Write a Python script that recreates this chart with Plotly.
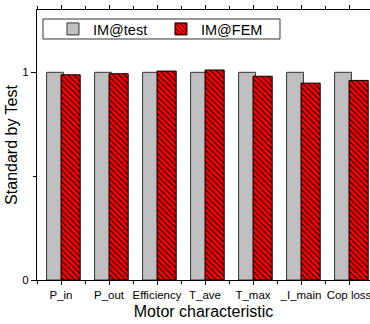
import plotly.graph_objects as go

categories = ["P_in", "P_out", "Efficiency", "T_ave", "T_max", "_I_main", "Cop loss"]
im_test = [1, 1, 1, 1, 1, 1, 1]
im_fem = [0.988, 0.993, 1.006, 1.011, 0.981, 0.948, 0.961]
y_ticks = [0, 1]

xpos = list(range(len(categories)))

fig = go.Figure()
fig.add_trace(go.Bar(
    x=xpos, y=im_test, name="IM@test",
    offset=-0.30, width=0.35,
    marker=dict(color="#c0c0c0", line=dict(color="#333333", width=1)),
))
fig.add_trace(go.Bar(
    x=xpos, y=im_fem, name="IM@FEM",
    offset=0.0, width=0.40,
    marker=dict(color="#ff0000", line=dict(color="#000000", width=1),
                pattern=dict(shape="\\", fgcolor="#000000", bgcolor="#ff0000",
                             size=4, solidity=0.28, fillmode="replace")),
))

font_family = "Liberation Sans, Arial, sans-serif"
fig.update_layout(
    width=370, height=324,
    margin=dict(l=37, r=0, t=10, b=44, autoexpand=False),
    barmode="overlay",
    plot_bgcolor="white", paper_bgcolor="white",
    font=dict(family=font_family, color="black", size=12),
    showlegend=True,
    legend=dict(
        orientation="h", x=0.048, y=0.9296, xanchor="left", yanchor="middle",
        borderwidth=0, bgcolor="rgba(0,0,0,0)",
        font=dict(size=14.5, family=font_family),
        entrywidth=63, entrywidthmode="pixels",
        traceorder="normal",
    ),
    shapes=[dict(type="rect", xref="paper", yref="paper",
                 x0=0.018, x1=0.7297, y0=0.8926, y1=0.9667,
                 line=dict(color="#333333", width=1), fillcolor="rgba(0,0,0,0)",
                 layer="above")],
    xaxis=dict(
        range=[-0.5, 6.4375],
        tickmode="array", tickvals=xpos, ticktext=categories,
        ticks="outside", ticklen=4, tickcolor="black",
        minor=dict(tick0=0.5, dtick=1, ticks="outside", ticklen=3, tickcolor="black"),
        showline=True, linecolor="black", linewidth=1, mirror="allticks",
        showgrid=False, zeroline=False, automargin=False,
        ticklabeloverflow="allow",
        tickfont=dict(size=11.5),
        title=dict(text="Motor characteristic", font=dict(size=16), standoff=6),
    ),
    yaxis=dict(
        range=[0, 1.3],
        tickmode="array", tickvals=y_ticks,
        ticks="outside", ticklen=5, tickcolor="black",
        minor=dict(tick0=0, dtick=0.5, ticks="outside", ticklen=3, tickcolor="black"),
        showline=True, linecolor="black", linewidth=1, mirror=True,
        showgrid=False, zeroline=False, automargin=False,
        tickfont=dict(size=11.5),
        title=dict(text="Standard by Test", font=dict(size=16), standoff=0),
    ),
)

fig.write_html("out.html", config={"displayModeBar": False},
               post_script="document.body.style.margin='0px';document.body.style.overflow='hidden';")
